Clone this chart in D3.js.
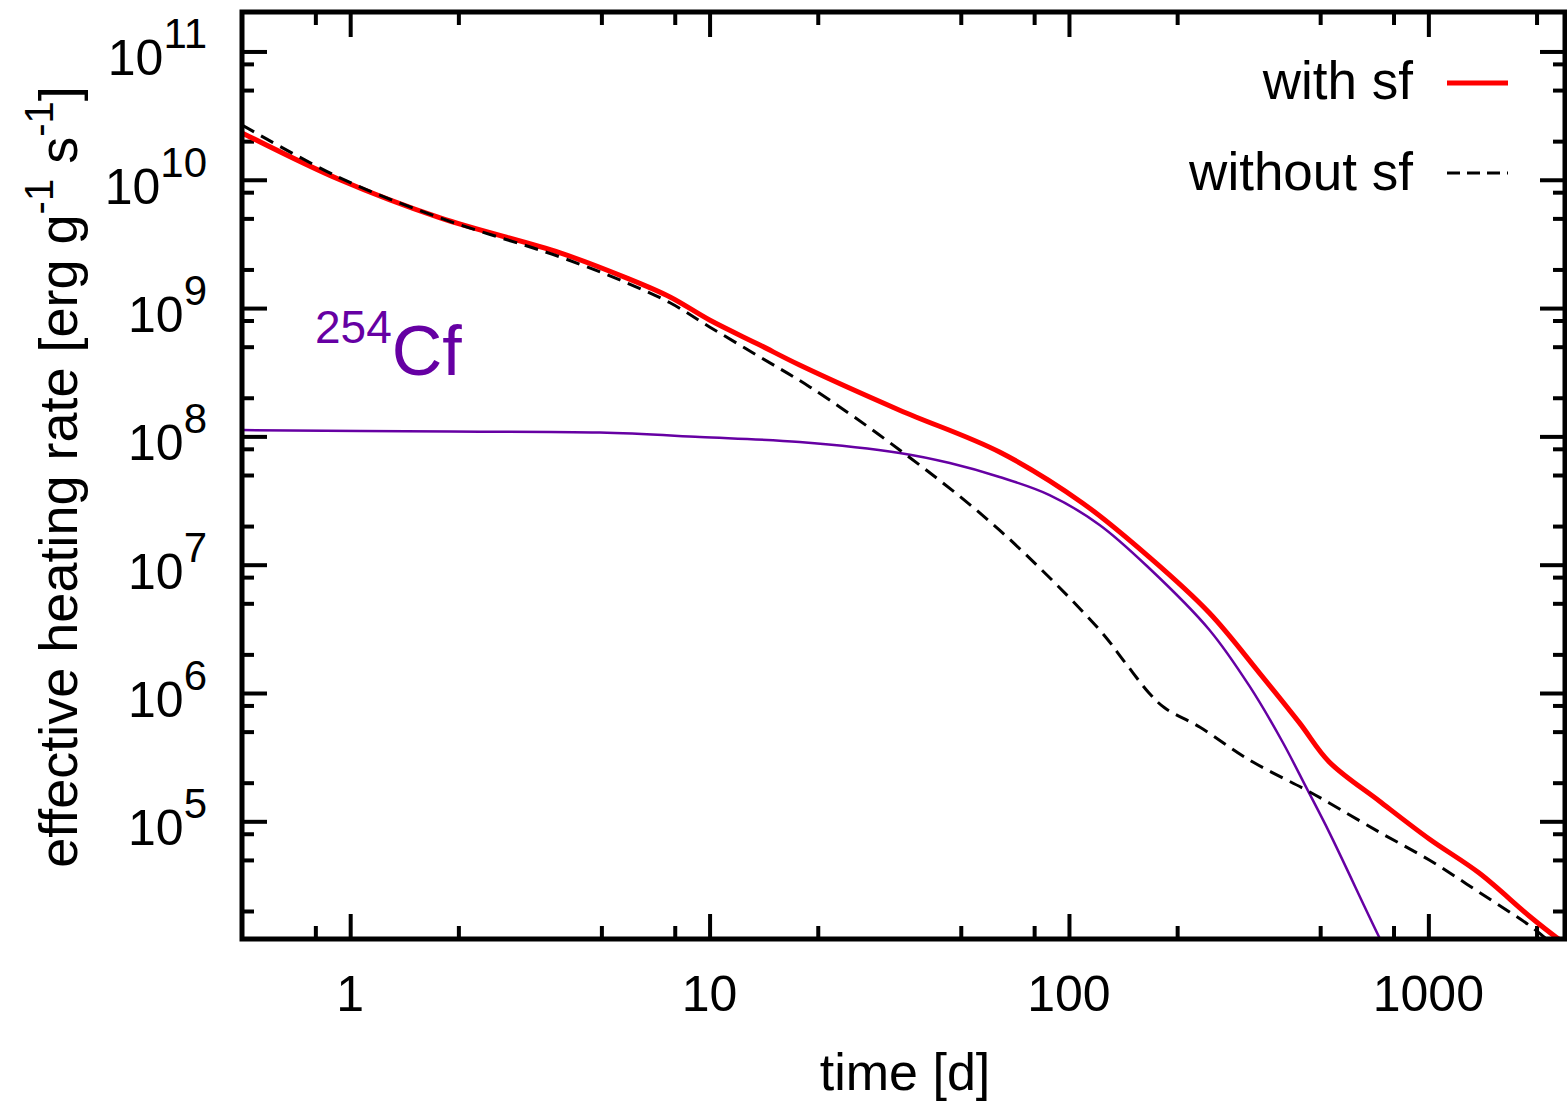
<!DOCTYPE html>
<html>
<head>
<meta charset="utf-8">
<script src="https://cdn.jsdelivr.net/npm/d3@7"></script>
<style>
  body { margin: 0; background: #fff; }
  text { font-family: "Liberation Sans", Arial, sans-serif; }
</style>
</head>
<body>
<svg id="chart"></svg>
<script>
// with spontaneous fission (red)
const withSfTime = [0.5, 0.94, 1.78, 3.84, 5.89, 7.76, 10, 13.8, 17.8, 33.8, 64.1, 109, 167, 246, 339, 438, 530, 730, 1006, 1385, 1908, 2268, 2400];
const withSfRate = [2.32e10, 9.95e9, 5.04e9, 2.69e9, 1.71e9, 1.22e9, 8.07e8, 5.15e8, 3.6e8, 1.6e8, 7.55e7, 3.03e7, 1.15e7, 4.2e6, 1.43e6, 5.85e5, 2.9e5, 1.44e5, 7.28e4, 3.95e4, 1.83e4, 1.25e4, 1.12e4];

// without spontaneous fission (dashed)
const withoutSfTime = [0.5, 0.94, 1.78, 3.84, 5.89, 7.76, 10, 13.8, 19, 33.8, 64.1, 121.7, 142.8, 167, 184.5, 231, 318, 458, 530, 730, 1006, 1385, 1908, 2033, 2400];
const withoutSfRate = [2.67e10, 1.03e10, 5.04e9, 2.5e9, 1.57e9, 1.1e9, 7.13e8, 4.16e8, 2.43e8, 7.84e7, 1.86e7, 3.1e6, 1.75e6, 1.0e6, 7.67e5, 5.43e5, 3.0e5, 1.75e5, 1.39e5, 8.24e4, 4.99e4, 2.8e4, 1.55e4, 1.35e4, 9e3];

// 254Cf contribution
const cfTime = [0.5, 1.9, 4.95, 9.4, 17.8, 33.8, 46.6, 64.1, 88.3, 121.7, 167, 246, 318, 393, 458, 530, 730, 800];
const cfRate = [1.12e8, 1.09e8, 1.07e8, 9.9e7, 9.04e7, 7.43e7, 6.2e7, 4.83e7, 3.49e7, 2.04e7, 9.42e6, 3.1e6, 1.13e6, 4.15e5, 1.82e5, 8.2e4, 1.25e4, 7.6e3];

// ticks
const xMajor = [1, 10, 100, 1000];
const xMinor = [0.8, 2, 5, 8, 20, 50, 80, 200, 500, 800, 2000];
const yExponents = [5, 6, 7, 8, 9, 10, 11];
const yMinor = [2e4, 5e4, 8e4, 2e5, 5e5, 8e5, 2e6, 5e6, 8e6, 2e7, 5e7, 8e7, 2e8, 5e8, 8e8, 2e9, 5e9, 8e9, 2e10, 5e10, 8e10];

const W = 1567, H = 1104;
const L = 242, R = 1565, T = 12, B = 939;

const svg = d3.select('#chart').attr('width', W).attr('height', H);

const x = d3.scaleLog().domain([0.5, 2400]).range([L, R]);
const y = d3.scaleLog().domain([1.21e4, 2.03e11]).range([B, T]);

svg.append('defs').append('clipPath').attr('id', 'plot')
  .append('rect').attr('x', L).attr('y', T).attr('width', R - L).attr('height', B - T);

// ticks on all four sides, pointing inward
function tickAxis(axis, vals, size, tx, ty) {
  const g = svg.append('g')
    .attr('transform', `translate(${tx},${ty})`)
    .call(axis.tickValues(vals).tickSize(-size).tickFormat(''));
  g.select('.domain').remove();
  g.selectAll('line').attr('stroke', '#000').attr('stroke-width', 4);
}
const yMajorVals = yExponents.map(e => Math.pow(10, e));
tickAxis(d3.axisBottom(x), xMajor, 25, 0, B);
tickAxis(d3.axisBottom(x), xMinor, 13, 0, B);
tickAxis(d3.axisTop(x), xMajor, 25, 0, T);
tickAxis(d3.axisTop(x), xMinor, 13, 0, T);
tickAxis(d3.axisLeft(y), yMajorVals, 25, L, 0);
tickAxis(d3.axisLeft(y), yMinor, 12, L, 0);
tickAxis(d3.axisRight(y), yMajorVals, 25, R, 0);
tickAxis(d3.axisRight(y), yMinor, 12, R, 0);

// x tick labels
svg.append('g').selectAll('text')
  .data(xMajor)
  .enter()
  .append('text')
  .attr('x', d => x(d))
  .attr('y', 1011)
  .attr('text-anchor', 'middle')
  .style('font-size', '50px')
  .text(d => d);

// y tick labels 10^n
const yl = svg.append('g').selectAll('text')
  .data(yExponents)
  .enter()
  .append('text')
  .attr('x', 207)
  .attr('y', d => y(Math.pow(10, d)) + 24)
  .attr('text-anchor', 'end')
  .style('font-size', '50px');
yl.append('tspan').text('10');
yl.append('tspan').attr('dy', -27).style('font-size', '42px').text(d => d);

// curves
const line = d3.line()
  .x(d => x(d[0]))
  .y(d => y(d[1]))
  .curve(d3.curveCatmullRom.alpha(0.5));

const plot = svg.append('g').attr('clip-path', 'url(#plot)');

plot.append('path')
  .datum(d3.zip(cfTime, cfRate))
  .attr('fill', 'none')
  .attr('stroke', '#6600a3')
  .attr('stroke-width', 2.5)
  .attr('d', line);

plot.append('path')
  .datum(d3.zip(withSfTime, withSfRate))
  .attr('fill', 'none')
  .attr('stroke', '#ff0000')
  .attr('stroke-width', 5)
  .attr('d', line);

plot.append('path')
  .datum(d3.zip(withoutSfTime, withoutSfRate))
  .attr('fill', 'none')
  .attr('stroke', '#000')
  .attr('stroke-width', 3)
  .attr('stroke-dasharray', '14,8')
  .attr('d', line);

// frame
svg.append('rect')
  .attr('x', L).attr('y', T)
  .attr('width', R - L).attr('height', B - T)
  .attr('fill', 'none')
  .attr('stroke', '#000')
  .attr('stroke-width', 5);

// legend
const legend = svg.append('g');
legend.append('text').attr('x', 1413).attr('y', 99).attr('text-anchor', 'end')
  .style('font-size', '53px').text('with sf');
legend.append('line').attr('x1', 1447).attr('x2', 1508).attr('y1', 83).attr('y2', 83)
  .attr('stroke', '#ff0000').attr('stroke-width', 5);
legend.append('text').attr('x', 1413).attr('y', 190).attr('text-anchor', 'end')
  .style('font-size', '53px').text('without sf');
legend.append('line').attr('x1', 1447).attr('x2', 1508).attr('y1', 173).attr('y2', 173)
  .attr('stroke', '#000').attr('stroke-width', 3).attr('stroke-dasharray', '13,7');

// 254Cf label
const cf = svg.append('text').attr('x', 315).attr('y', 375).style('fill', '#6600a3');
cf.append('tspan').attr('dy', -32).style('font-size', '46px').text('254');
cf.append('tspan').attr('dy', 32).style('font-size', '70px').text('Cf');

// axis titles
svg.append('text')
  .attr('x', 905).attr('y', 1090)
  .attr('text-anchor', 'middle')
  .style('font-size', '52px')
  .text('time [d]');

const yt = svg.append('text')
  .attr('transform', 'translate(77,477) rotate(-90)')
  .attr('text-anchor', 'middle')
  .style('font-size', '54px');
yt.append('tspan').text('effective heating rate [erg g');
yt.append('tspan').attr('dy', -24).style('font-size', '40px').text('-1');
yt.append('tspan').attr('dy', 24).text(' s');
yt.append('tspan').attr('dy', -24).style('font-size', '40px').text('-1');
yt.append('tspan').attr('dy', 24).text(']');
</script>
</body>
</html>
